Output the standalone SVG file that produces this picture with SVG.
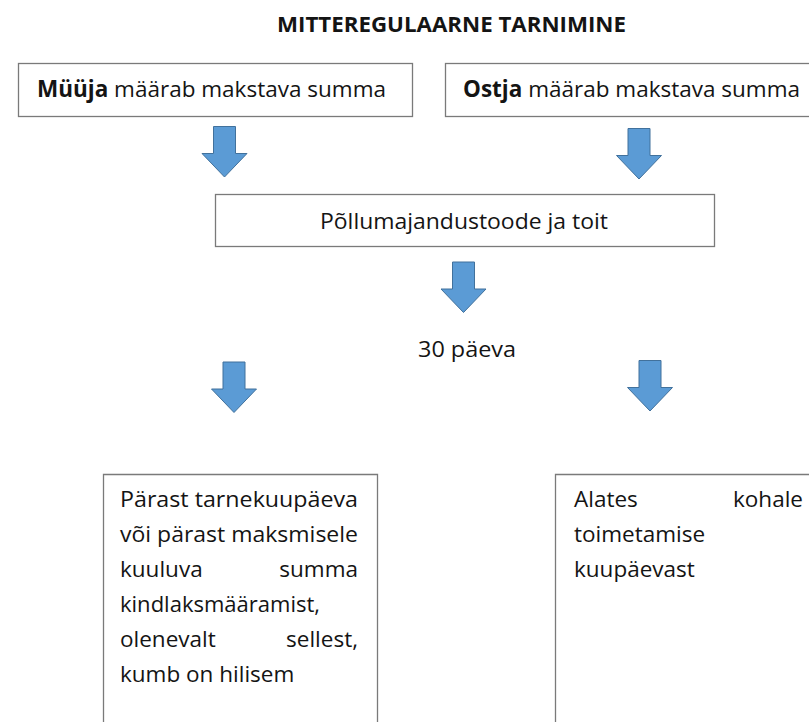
<svg xmlns="http://www.w3.org/2000/svg" width="809" height="722" viewBox="0 0 809 722">
<style>
text{font-family:"Open Sans","Liberation Sans",sans-serif;font-size:22.5px;fill:#141414}
.t{font-weight:bold;font-size:21px}
.b{font-weight:bold}
.box{fill:#fff;stroke:#7a7a7a;stroke-width:1.3}
.arr{fill:#5b9bd5;stroke:#41719c;stroke-width:1}
.e{text-anchor:end}
</style>
<defs>
<path id="ar" class="arr" d="M-11 0H11V27H22.5L0 50.5L-22.5 27H-11Z"/>
</defs>
<rect width="809" height="722" fill="#fff"/>
<text class="t" x="277" y="32" textLength="349" lengthAdjust="spacingAndGlyphs">MITTEREGULAARNE TARNIMINE</text>
<g id="n1">
<rect class="box" x="18.5" y="63.5" width="394" height="53"/>
<text x="37" y="97" textLength="349" lengthAdjust="spacingAndGlyphs"><tspan class="b">Müüja</tspan> määrab makstava summa</text>
</g>
<g id="n2">
<rect class="box" x="445.5" y="63.5" width="380" height="53"/>
<text x="463" y="97" textLength="337" lengthAdjust="spacingAndGlyphs"><tspan class="b">Ostja</tspan> määrab makstava summa</text>
</g>
<g id="n3">
<rect class="box" x="215.5" y="194.5" width="499" height="52"/>
<text x="320" y="229" textLength="288" lengthAdjust="spacingAndGlyphs">Põllumajandustoode ja toit</text>
</g>
<g id="n4">
<text x="418" y="357" textLength="98" lengthAdjust="spacingAndGlyphs">30 päeva</text>
</g>
<g id="n5">
<path class="box" d="M103.5 730V474.5H377.5V730"/>
<text x="120" y="507" textLength="238" lengthAdjust="spacingAndGlyphs">Pärast tarnekuupäeva</text>
<text x="120" y="542" textLength="238" lengthAdjust="spacingAndGlyphs">või pärast maksmisele</text>
<text x="120" y="577">kuuluva</text><text class="e" x="358" y="577">summa</text>
<text x="120" y="612" textLength="200" lengthAdjust="spacingAndGlyphs">kindlaksmääramist,</text>
<text x="120" y="647">olenevalt</text><text class="e" x="358" y="647">sellest,</text>
<text x="120" y="682">kumb on hilisem</text>
</g>
<g id="n6">
<path class="box" d="M555.5 730V474.5H815"/>
<text x="574" y="507">Alates</text><text class="e" x="803" y="507">kohale</text>
<text x="574" y="542">toimetamise</text>
<text x="574" y="577">kuupäevast</text>
</g>
<g id="connectors">
<use href="#ar" x="224.5" y="126.5"/>
<use href="#ar" x="639" y="128.5"/>
<use href="#ar" x="463.5" y="262"/>
<use href="#ar" x="234" y="362"/>
<use href="#ar" x="650" y="360.5"/>
</g>
</svg>
